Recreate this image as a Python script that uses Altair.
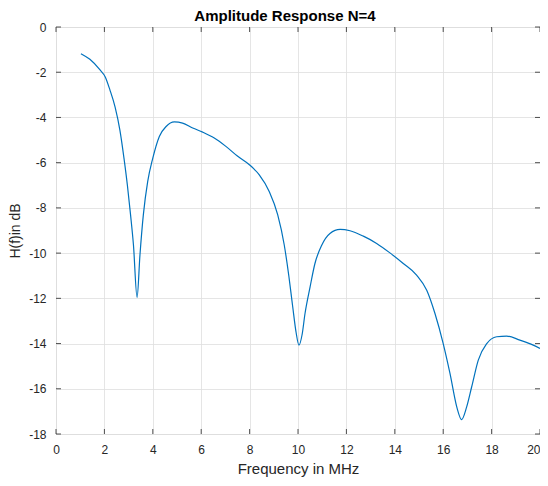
import altair as alt
import pandas as pd

freq = [1.03, 1.4, 1.82, 2.03, 2.23, 2.44, 2.64, 2.81, 2.95, 3.08, 3.20, 3.35, 3.47, 3.61, 3.79, 4.0,
        4.27, 4.55, 4.89, 5.23, 5.65, 6.06, 6.54, 7.02, 7.51, 7.99, 8.40, 8.81, 9.16, 9.43, 9.62,
        9.78, 9.92, 10.04, 10.17, 10.29, 10.5, 10.7, 10.98, 11.32, 11.74, 12.15, 12.7, 13.25, 13.8,
        14.35, 14.9, 15.32, 15.66, 16.0, 16.28, 16.56, 16.76, 16.97, 17.18, 17.45, 17.8, 18.21,
        18.62, 19.17, 19.72, 20.0]
gain = [-1.18, -1.43, -1.9, -2.2, -2.79, -3.53, -4.56, -5.81, -7.0, -8.3, -9.63, -11.96, -10.07,
        -8.3, -6.83, -5.8, -4.84, -4.4, -4.2, -4.25, -4.47, -4.65, -4.91, -5.28, -5.72, -6.09,
        -6.54, -7.27, -8.3, -9.63, -11.0, -12.36, -13.5, -14.07, -13.6, -12.67, -11.49, -10.46,
        -9.65, -9.13, -8.95, -9.01, -9.25, -9.57, -9.99, -10.46, -10.97, -11.64, -12.67, -14.0,
        -15.32, -16.8, -17.36, -16.8, -15.9, -14.73, -14.0, -13.7, -13.67, -13.85, -14.07, -14.22]
x_ticks = list(range(0, 21, 2))
y_ticks = list(range(-18, 1, 2))

W, H = 484, 407
TXT = "#262626"
FONT = "Liberation Sans"

df = pd.DataFrame({"f": freq, "g": gain})
xt = pd.DataFrame({"t": x_ticks})
yt = pd.DataFrame({"t": y_ticks})

xscale = alt.Scale(domain=[0, 20], nice=False, zero=False)
yscale = alt.Scale(domain=[-18, 0], nice=False, zero=False)

line = alt.Chart(df).mark_line(color="#0072BD", strokeWidth=1.2, interpolate="monotone").encode(
    x=alt.X("f:Q", scale=xscale, axis=alt.Axis(
        values=x_ticks, title="Frequency in MHz", grid=True, ticks=False, domain=False,
        labelPadding=10, labelFontSize=12, labelColor=TXT, labelFont=FONT, labelFlush=False,
        labelAlign={"condition": {"test": "datum.value == 20", "value": "right"}, "value": "center"},
        labelExpr="toString(datum.value)",
        titleFontSize=15, titleFontWeight="normal", titleColor=TXT, titleFont=FONT,
        titlePadding=6, gridColor="#dedede", gridWidth=0.8)),
    y=alt.Y("g:Q", scale=yscale, axis=alt.Axis(
        values=y_ticks, title="H(f)in dB", grid=True, ticks=False, domain=False,
        labelPadding=10, labelFontSize=12, labelColor=TXT, labelFont=FONT, labelFlush=False,
        labelExpr="toString(datum.value)",
        titleFontSize=14, titleFontWeight="normal", titleColor=TXT, titleFont=FONT,
        titlePadding=6, gridColor="#dedede", gridWidth=0.8)),
)

tick_style = dict(color=TXT, strokeWidth=0.8)
xb = alt.Chart(xt).mark_rule(**tick_style).encode(
    x=alt.X("t:Q", scale=xscale), y=alt.value(H), y2=alt.value(H - 5))
xtop = alt.Chart(xt).mark_rule(**tick_style).encode(
    x=alt.X("t:Q", scale=xscale), y=alt.value(0), y2=alt.value(5))
yl = alt.Chart(yt).mark_rule(**tick_style).encode(
    y=alt.Y("t:Q", scale=yscale), x=alt.value(0), x2=alt.value(5))
yr = alt.Chart(yt).mark_rule(**tick_style).encode(
    y=alt.Y("t:Q", scale=yscale), x=alt.value(W), x2=alt.value(W - 5))

chart = alt.layer(line, xb, xtop, yl, yr).properties(
    width=W, height=H,
    title=alt.TitleParams("Amplitude Response N=4", fontSize=15, fontWeight="bold",
                          color="#000000", font=FONT, offset=-3, dx=-13),
    autosize=alt.AutoSizeParams(type="none"),
    padding={"left": 48, "top": 19, "right": 0, "bottom": 44},
).configure_view(stroke=TXT, strokeWidth=1).configure(background="white")

chart.save("out.html", embed_options={"renderer": "svg", "actions": False})
